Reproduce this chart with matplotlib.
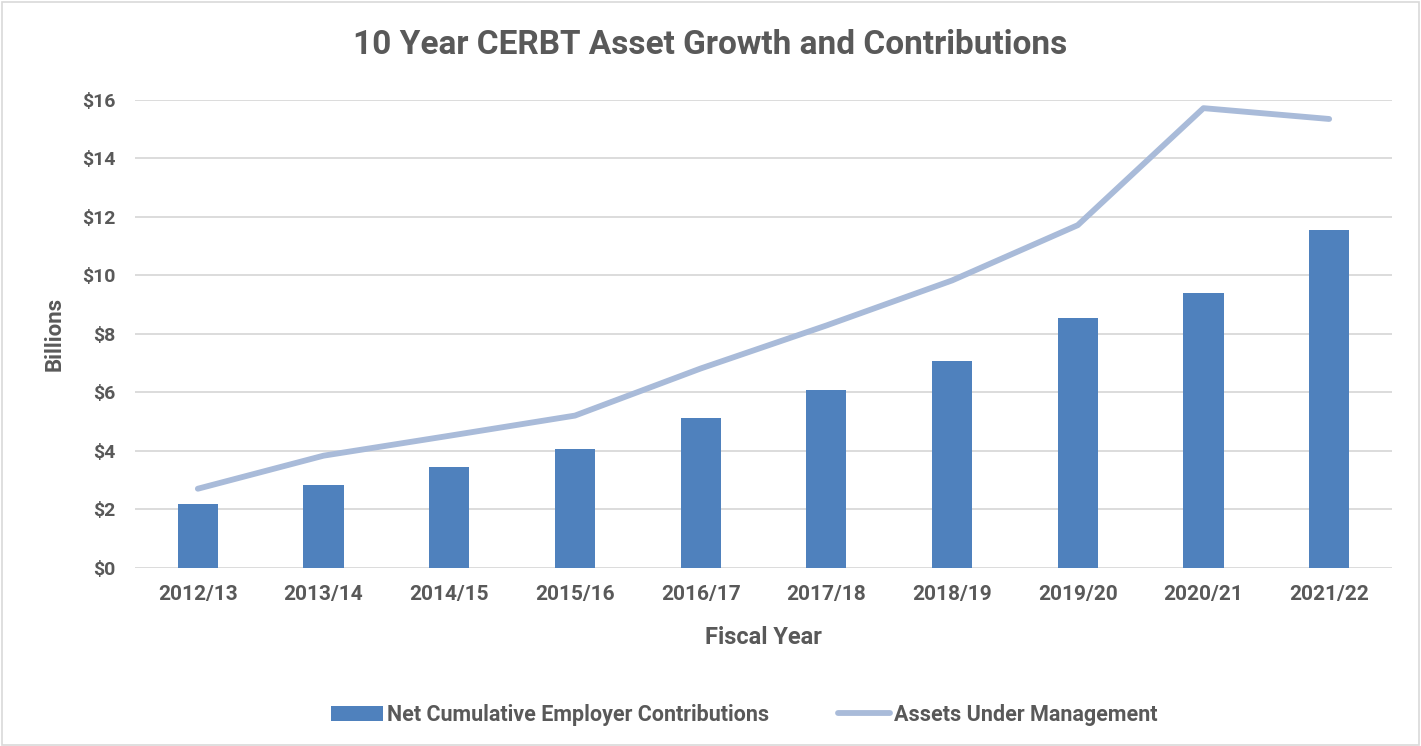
import matplotlib
matplotlib.use('Agg')
import matplotlib.pyplot as plt
from matplotlib.patches import Rectangle

# fiscal years and values (billions)
years = ['2012/13', '2013/14', '2014/15', '2015/16', '2016/17',
         '2017/18', '2018/19', '2019/20', '2020/21', '2021/22']
contributions = [2.19, 2.84, 3.46, 4.08, 5.14, 6.10, 7.06, 8.56, 9.39, 11.54]
assets = [2.71, 3.84, 4.52, 5.21, 6.82, 8.29, 9.83, 11.72, 15.72, 15.35]
yticks = [0, 2, 4, 6, 8, 10, 12, 14, 16]

txt = '#595959'
plt.rcParams['font.family'] = ['Roboto', 'DejaVu Sans']
plt.rcParams['font.weight'] = 'bold'

fig = plt.figure(figsize=(14.21, 7.46), dpi=100)
ax = fig.add_axes([0.095, 0.2386, 0.8846, 0.6274])

x = list(range(len(years)))
bars = ax.bar(x, contributions, width=0.32, color='#4F81BD', zorder=2,
              label='Net Cumulative Employer Contributions')
line, = ax.plot(x, assets, color='#A9BBD9', linewidth=4.2, solid_capstyle='round',
                zorder=3, label='Assets Under Management')

ax.set_xlim(-0.5, len(years) - 0.5)
ax.set_ylim(0, 16)
ax.set_yticks(yticks)
ax.set_yticklabels(['$%d' % v for v in yticks], fontweight='bold')
ax.set_xticks(x)
ax.set_xticklabels(years, fontweight='bold')
ax.tick_params(length=0, labelsize=15, labelcolor=txt)
ax.tick_params(axis='y', labelsize=14, pad=14)
ax.tick_params(axis='x', pad=12)
ax.grid(axis='y', color='#D9D9D9', linewidth=1.3, zorder=0)
for s in ax.spines.values():
    s.set_visible(False)

ax.set_xlabel('Fiscal Year', fontsize=17, color=txt, fontweight='bold', labelpad=16)
ax.set_ylabel('Billions', fontsize=16, color=txt, fontweight='bold', labelpad=12)
fig.text(0.5, 0.94, '10 Year CERBT Asset Growth and Contributions',
         ha='center', va='center', fontsize=24, color=txt, fontweight='bold')

leg = fig.legend([bars, line], [bars.get_label(), line.get_label()],
                 loc='center', bbox_to_anchor=(0.524, 0.042), ncol=2, frameon=False,
                 prop={'size': 15.5, 'weight': 'bold'},
                 handlelength=2.4, columnspacing=3.2, handletextpad=0.2)
for t in leg.get_texts():
    t.set_color(txt)

# chart border
fig.patches.append(Rectangle((0.0015, 0.002), 0.997, 0.995, transform=fig.transFigure,
                             fill=False, edgecolor='#D9D9D9', linewidth=1.2))

plt.savefig('out.png', dpi=100)
plt.close()
